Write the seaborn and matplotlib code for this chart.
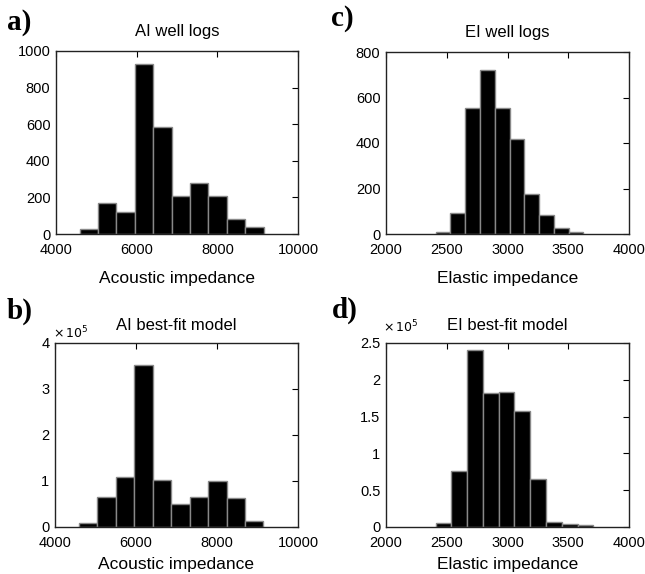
import numpy as np
import pandas as pd
import matplotlib
matplotlib.use("Agg")
import matplotlib.pyplot as plt
import seaborn as sns
from matplotlib.ticker import FuncFormatter

sns.set_style("white")
plt.rcParams['font.family'] = ['Liberation Sans', 'DejaVu Sans']
plt.rcParams['text.color'] = 'black'
plt.rcParams['axes.labelcolor'] = 'black'

# AI well logs (counts per bin)
ai_logs_range = (4587, 9147)
ai_logs_counts = [28, 170, 119, 930, 587, 205, 280, 205, 83, 40]

# AI best-fit model (x 1e5)
ai_model_range = (4587, 9147)
ai_model_counts = [0.08, 0.66, 1.09, 3.52, 1.02, 0.51, 0.66, 0.99, 0.63, 0.12]

# EI well logs
ei_logs_range = (2409, 3624)
ei_logs_counts = [7, 91, 555, 723, 555, 419, 175, 84, 28, 7]

# EI best-fit model (x 1e5)
ei_model_range = (2409, 3706)
ei_model_counts = [0.05, 0.757, 2.40, 1.82, 1.84, 1.58, 0.65, 0.07, 0.045, 0.03]

fig = plt.figure(figsize=(6.45, 5.74), dpi=100)


def px_axes(left, top, right, bottom):
    W, H = 645, 574
    return fig.add_axes([left / W, 1 - bottom / H, (right - left) / W, (bottom - top) / H])


def draw(ax, rng, counts, scale, title, xlabel, xlim, xticks, ylim, yticks, pad, lpad):
    edges = np.linspace(rng[0], rng[1], len(counts) + 1)
    df = pd.DataFrame({'value': (edges[:-1] + edges[1:]) / 2,
                       'count': np.array(counts) * scale})
    sns.histplot(data=df, x='value', weights='count', bins=edges.tolist(), ax=ax,
                 color='black', edgecolor='#888888', linewidth=1.0, alpha=1)
    ax.set_xlim(*xlim)
    ax.set_ylim(*ylim)
    ax.set_xticks(xticks)
    ax.set_yticks(yticks)
    if scale != 1:
        ax.yaxis.set_major_formatter(FuncFormatter(lambda v, p: '%g' % (v / scale)))
    ax.set_ylabel('')
    ax.set_xlabel(xlabel, fontsize=12.5, labelpad=lpad)
    ax.set_title(title, fontsize=12, pad=pad, color='black')
    ax.tick_params(direction='in', length=4, width=0.8, top=True, right=True,
                   labelsize=10.5, colors='black')
    ax.tick_params(axis='x', pad=6.5)
    ax.tick_params(axis='y', pad=4)
    for s in ax.spines.values():
        s.set_color('#222222')
        s.set_linewidth(1.0)


ax_a = px_axes(56, 51, 298, 234)
draw(ax_a, ai_logs_range, ai_logs_counts, 1, 'AI well logs', 'Acoustic impedance',
     (4000, 10000), [4000, 6000, 8000, 10000], (0, 1000), [0, 200, 400, 600, 800, 1000],
     11, 10)

ax_c = px_axes(386, 52, 629, 234)
draw(ax_c, ei_logs_range, ei_logs_counts, 1, 'EI well logs', 'Elastic impedance',
     (2000, 4000), [2000, 2500, 3000, 3500, 4000], (0, 800), [0, 200, 400, 600, 800],
     11, 10)

ax_b = px_axes(55, 343, 298, 527)
draw(ax_b, ai_model_range, ai_model_counts, 1e5, 'AI best-fit model', 'Acoustic impedance',
     (4000, 10000), [4000, 6000, 8000, 10000], (0, 4e5), [0, 1e5, 2e5, 3e5, 4e5],
     9, 5)

ax_d = px_axes(386, 343, 629, 527)
draw(ax_d, ei_model_range, ei_model_counts, 1e5, 'EI best-fit model', 'Elastic impedance',
     (2000, 4000), [2000, 2500, 3000, 3500, 4000], (0, 2.5e5),
     [0, 0.5e5, 1e5, 1.5e5, 2e5, 2.5e5], 9, 5)

# multiplier labels
fig.text(53 / 645, 1 - 333 / 574, r'$\times\,10^5$', fontsize=9, va='center', ha='left')
fig.text(383 / 645, 1 - 327 / 574, r'$\times\,10^5$', fontsize=9, va='center', ha='left')

# panel letters
for lbl, x, y in [('a)', 7, 23), ('b)', 7, 311), ('c)', 331, 18), ('d)', 332, 310)]:
    fig.text(x / 645, 1 - y / 574, lbl, fontsize=21, fontweight='bold',
             family='Liberation Serif', va='center', ha='left', color='black')

fig.savefig('out.png', dpi=100)
